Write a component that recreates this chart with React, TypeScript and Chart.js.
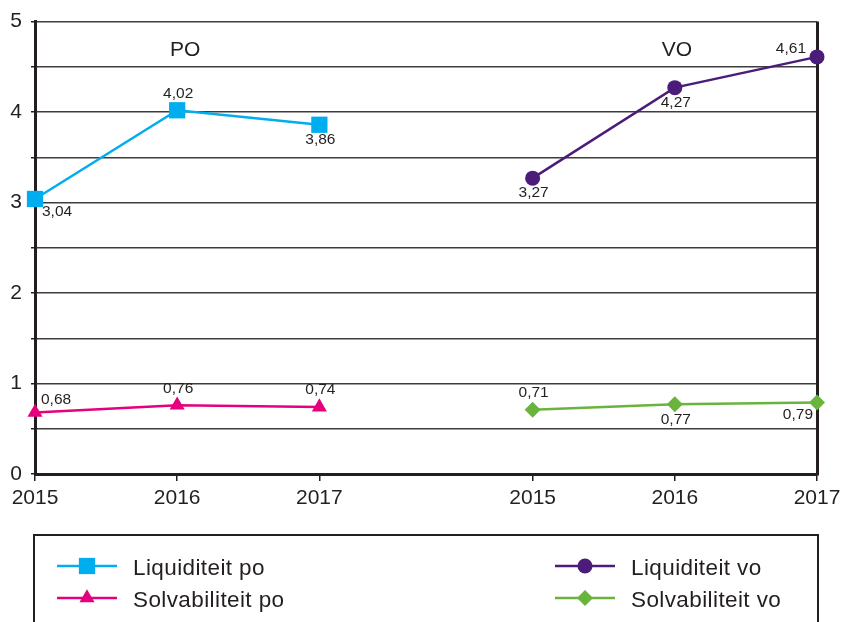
import React, { useEffect, useRef } from 'react';
import { Chart, registerables } from 'chart.js';

Chart.register(...registerables);

// ---------- data ----------
const tickLabels = ['2015', '2016', '2017', '2015', '2016', '2017'];
const poX = [0, 1, 2];
const voX = [3.5, 4.5, 5.5];
const tickValues = [...poX, ...voX];
const groupLabels = ['PO', 'VO'];

const liqPo = [3.04, 4.02, 3.86];
const solvPo = [0.68, 0.76, 0.74];
const liqVo = [3.27, 4.27, 4.61];
const solvVo = [0.71, 0.77, 0.79];

const seriesNames = ['Liquiditeit po', 'Solvabiliteit po', 'Liquiditeit vo', 'Solvabiliteit vo'];

// ---------- style ----------
const FONT = '"Liberation Sans", Arial, Helvetica, sans-serif';
const INK = '#231f20';
const GRID = '#3d3d3d';
const CYAN = '#00aeef';
const MAGENTA = '#e5007d';
const PURPLE = '#4c1c7a';
const GREEN = '#6ab43e';

// label placement per point: t=top, b=below, br/tr/tl/bl = corners
const placements: string[][] = [
  ['br', 't', 'b'],
  ['tr', 't', 't'],
  ['b', 'b', 'tl'],
  ['t', 'b', 'bl'],
];
const placeOffsets: Record<string, { dx: number; dy: number; align: CanvasTextAlign }> = {
  t: { dx: 1, dy: -17, align: 'center' },
  b: { dx: 1, dy: 15, align: 'center' },
  br: { dx: 7, dy: 13, align: 'left' },
  tr: { dx: 6, dy: -13, align: 'left' },
  tl: { dx: -11, dy: -8, align: 'right' },
  bl: { dx: -4, dy: 12, align: 'right' },
};

function fmt(v: number) {
  return v.toFixed(2).replace('.', ',');
}

function drawMarker(ctx: CanvasRenderingContext2D, style: string, x: number, y: number, r: number, color: string) {
  ctx.save();
  ctx.fillStyle = color;
  ctx.beginPath();
  if (style === 'rect') {
    const s = r * Math.SQRT1_2;
    ctx.rect(x - s, y - s, 2 * s, 2 * s);
  } else if (style === 'circle') {
    ctx.arc(x, y, r, 0, Math.PI * 2);
  } else if (style === 'triangle') {
    ctx.moveTo(x, y - r);
    ctx.lineTo(x + r * Math.sin((2 * Math.PI) / 3), y - r * Math.cos((2 * Math.PI) / 3));
    ctx.lineTo(x + r * Math.sin((4 * Math.PI) / 3), y - r * Math.cos((4 * Math.PI) / 3));
    ctx.closePath();
  } else {
    ctx.moveTo(x - r, y);
    ctx.lineTo(x, y - r);
    ctx.lineTo(x + r, y);
    ctx.lineTo(x, y + r);
    ctx.closePath();
  }
  ctx.fill();
  ctx.restore();
}

const framePlugin = {
  id: 'frame',
  beforeDatasetsDraw(chart: any) {
    const { ctx, chartArea } = chart;
    ctx.save();
    ctx.strokeStyle = INK;
    ctx.lineWidth = 3;
    ctx.beginPath();
    ctx.moveTo(chartArea.right + 0.5, chartArea.top);
    ctx.lineTo(chartArea.right + 0.5, chartArea.bottom + 1.5);
    ctx.stroke();
    // group titles
    const xs = chart.scales.x;
    const ys = chart.scales.y;
    ctx.fillStyle = INK;
    ctx.font = `21px ${FONT}`;
    ctx.textAlign = 'center';
    ctx.textBaseline = 'middle';
    const groups = [poX, voX];
    const dxs = [8, 2];
    groups.forEach((g, i) => {
      const mid = (g[0] + g[g.length - 1]) / 2;
      ctx.fillText(groupLabels[i], xs.getPixelForValue(mid) + dxs[i], ys.getPixelForValue(4.68));
    });
    ctx.restore();
  },
};

const labelPlugin = {
  id: 'pointLabels',
  afterDatasetsDraw(chart: any) {
    const { ctx } = chart;
    ctx.save();
    ctx.fillStyle = INK;
    ctx.font = `15.5px ${FONT}`;
    ctx.textBaseline = 'middle';
    chart.data.datasets.forEach((ds: any, di: number) => {
      const meta = chart.getDatasetMeta(di);
      meta.data.forEach((pt: any, i: number) => {
        const p = placeOffsets[placements[di][i]];
        ctx.textAlign = p.align;
        ctx.fillText(fmt(ds.data[i].y), pt.x + p.dx, pt.y + p.dy);
      });
    });
    ctx.restore();
  },
};

const legendPlugin = {
  id: 'boxLegend',
  afterDraw(chart: any) {
    const { ctx, chartArea } = chart;
    const left = chartArea.left - 1;
    const right = chartArea.right + 1;
    const top = chartArea.bottom + 61;
    ctx.save();
    ctx.strokeStyle = INK;
    ctx.lineWidth = 2;
    ctx.beginPath();
    ctx.moveTo(left, chart.height + 10);
    ctx.lineTo(left, top);
    ctx.lineTo(right, top);
    ctx.lineTo(right, chart.height + 10);
    ctx.stroke();
    const colX = [left + 23, right - 263];
    const rowY = [top + 31, top + 63];
    ctx.font = `22.5px ${FONT}`;
    try {
      (ctx as any).letterSpacing = '0.4px';
    } catch (e) {}
    ctx.textAlign = 'left';
    ctx.textBaseline = 'middle';
    chart.data.datasets.forEach((ds: any, i: number) => {
      const x0 = colX[Math.floor(i / 2)];
      const y = rowY[i % 2];
      ctx.strokeStyle = ds.borderColor;
      ctx.lineWidth = ds.borderWidth;
      ctx.beginPath();
      ctx.moveTo(x0, y);
      ctx.lineTo(x0 + 60, y);
      ctx.stroke();
      drawMarker(ctx, ds.pointStyle, x0 + 30, y, ds.pointRadius, ds.borderColor);
      ctx.fillStyle = INK;
      ctx.fillText(ds.label, x0 + 76, y + 3);
    });
    ctx.restore();
  },
};

function makeSeries(label: string, xs: number[], ys: number[], color: string, pointStyle: string, radius: number) {
  return {
    label,
    data: ys.map((v, i) => ({ x: xs[i], y: v })),
    borderColor: color,
    backgroundColor: color,
    borderWidth: 2.5,
    pointStyle,
    pointRadius: radius,
    pointHoverRadius: radius,
    pointBorderWidth: 0,
    pointBackgroundColor: color,
    tension: 0,
    clip: false,
  };
}

export default function App() {
  const ref = useRef<HTMLCanvasElement>(null);

  useEffect(() => {
    if (!ref.current) return;
    const chart = new Chart(ref.current, {
      type: 'line',
      data: {
        datasets: [
          makeSeries(seriesNames[0], poX, liqPo, CYAN, 'rect', 11.5),
          makeSeries(seriesNames[1], poX, solvPo, MAGENTA, 'triangle', 8.7),
          makeSeries(seriesNames[2], voX, liqVo, PURPLE, 'circle', 7.5),
          makeSeries(seriesNames[3], voX, solvVo, GREEN, 'rectRot', 8),
        ] as any,
      },
      options: {
        responsive: false,
        animation: false,
        events: [],
        layout: { padding: { left: 0, right: 26, top: 19, bottom: 108 } },
        plugins: {
          legend: { display: false },
          tooltip: { enabled: false },
        },
        scales: {
          x: {
            type: 'linear',
            min: tickValues[0],
            max: tickValues[tickValues.length - 1],
            afterBuildTicks: (s: any) => {
              s.ticks = tickValues.map((v) => ({ value: v }));
            },
            afterFit: (s: any) => {
              s.height = 40;
              s.paddingLeft = 0;
              s.paddingRight = 0;
            },
            ticks: {
              autoSkip: false,
              maxRotation: 0,
              color: INK,
              font: { family: FONT, size: 21 },
              padding: 5,
              callback: (v: any) => tickLabels[tickValues.indexOf(Number(v))] ?? '',
            },
            grid: { drawOnChartArea: false, drawTicks: true, tickLength: 7, color: INK, lineWidth: 1.5 },
            border: { color: INK, width: 3 },
          },
          y: {
            min: 0,
            max: 5,
            afterFit: (s: any) => {
              s.width = 35;
            },
            ticks: {
              stepSize: 0.5,
              color: INK,
              font: { family: FONT, size: 21 },
              padding: 9,
              callback: (v: any) => (Number.isInteger(Number(v)) ? String(v) : ''),
            },
            grid: { color: GRID, lineWidth: 1.5, tickLength: 4, tickColor: INK },
            border: { color: INK, width: 3 },
          },
        },
      } as any,
      plugins: [framePlugin, labelPlugin, legendPlugin],
    });
    return () => chart.destroy();
  }, []);

  return (
    <div style={{ position: 'absolute', left: 0, top: 0, width: 843, height: 622, background: '#fff' }}>
      <canvas ref={ref} width={843} height={622} style={{ display: 'block' }} />
    </div>
  );
}
